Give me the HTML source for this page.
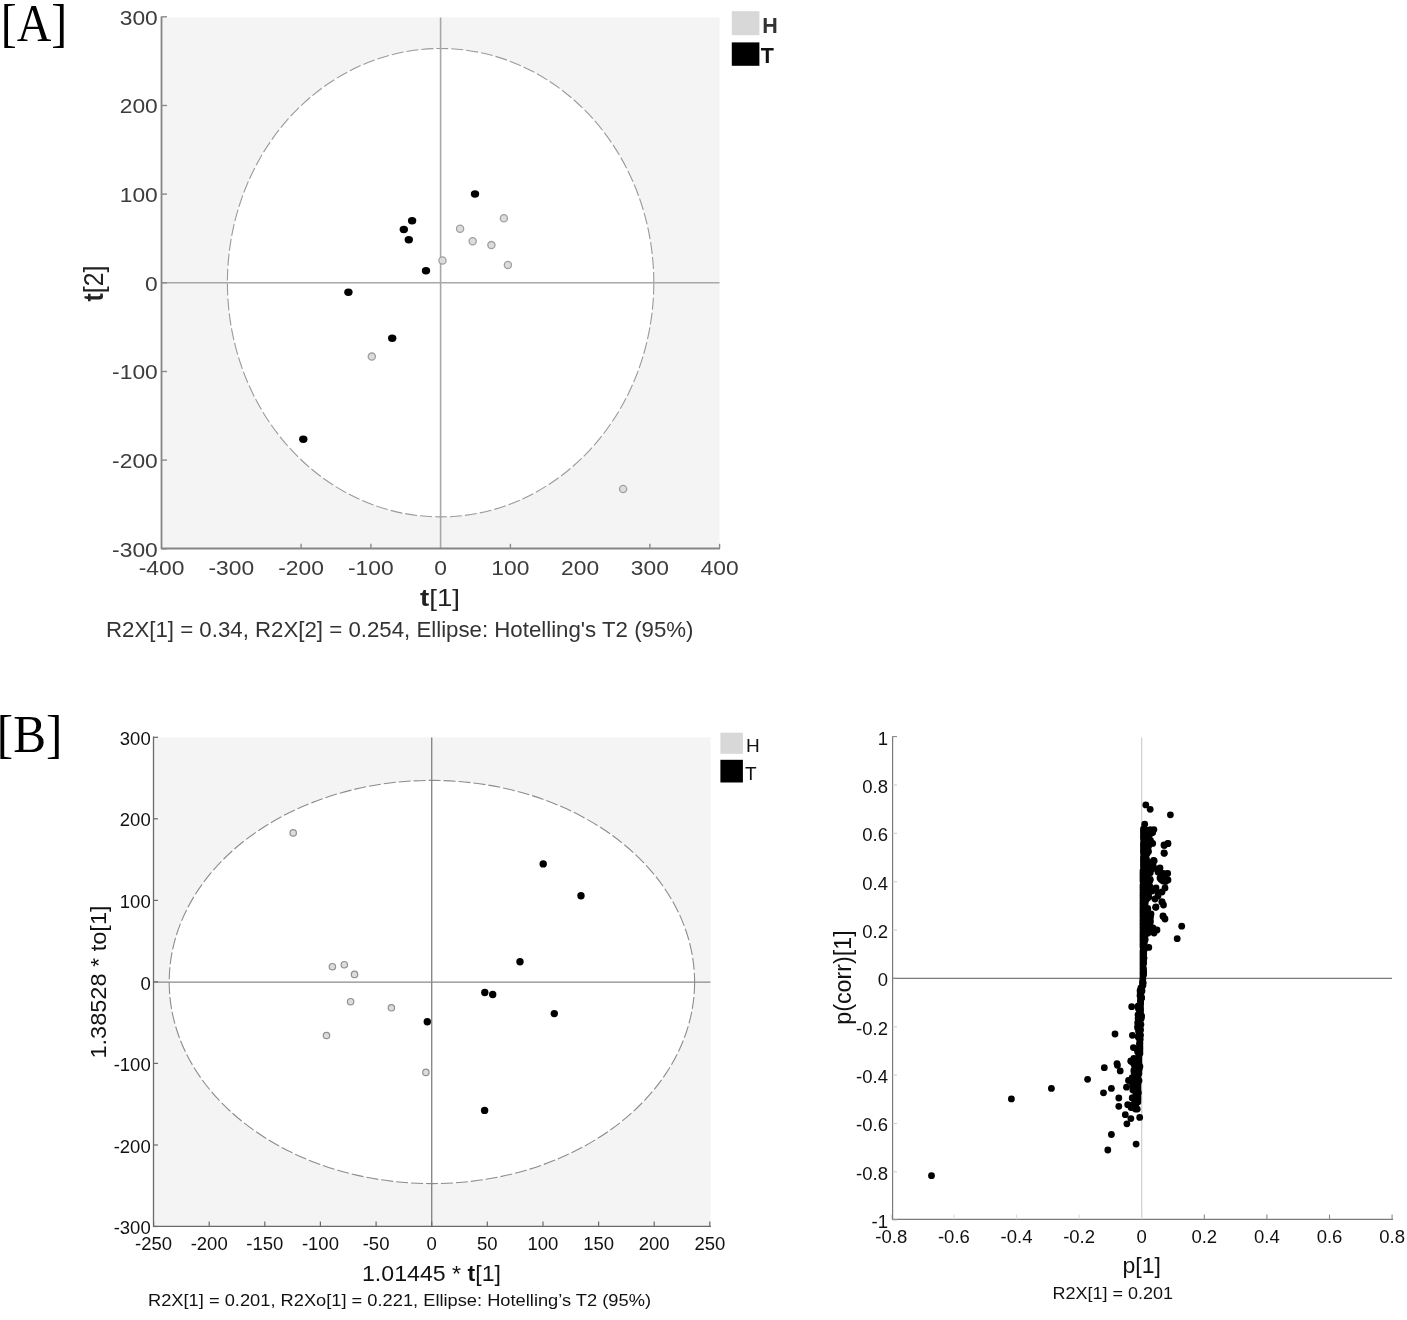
<!DOCTYPE html>
<html><head><meta charset="utf-8"><style>
html,body{margin:0;padding:0;background:#fff;width:1407px;height:1320px;overflow:hidden}
svg{display:block;filter:grayscale(1)}

</style></head><body>
<svg width="1407" height="1320" viewBox="0 0 1407 1320">
<rect width="1407" height="1320" fill="#fff"/>
<rect x="162" y="17.5" width="557.5" height="531" fill="#f4f4f4"/>
<ellipse cx="440.6" cy="282.7" rx="213.2" ry="234.2" fill="#fff" stroke="#9a9a9a" stroke-width="1.1" stroke-dasharray="12 3"/>
<line x1="162" y1="282.8" x2="719.5" y2="282.8" stroke="#a8a8a8" stroke-width="1.6"/>
<line x1="440.6" y1="17.5" x2="440.6" y2="548" stroke="#a8a8a8" stroke-width="1.6"/>
<line x1="161.5" y1="16.5" x2="161.5" y2="549" stroke="#858585" stroke-width="1.8"/>
<line x1="161" y1="548.5" x2="720" y2="548.5" stroke="#858585" stroke-width="1.8"/>
<line x1="161.5" y1="548.8" x2="167" y2="548.8" stroke="#8a8a8a" stroke-width="1.4"/>
<text x="157.8" y="556.81" font-size="19.5" text-anchor="end" fill="#3c3c3c" font-weight="normal" font-family='"Liberation Sans", sans-serif' textLength="45.67" lengthAdjust="spacingAndGlyphs" >-300</text>
<line x1="161.5" y1="460.1" x2="167" y2="460.1" stroke="#8a8a8a" stroke-width="1.4"/>
<text x="157.8" y="468.14" font-size="19.5" text-anchor="end" fill="#3c3c3c" font-weight="normal" font-family='"Liberation Sans", sans-serif' textLength="45.67" lengthAdjust="spacingAndGlyphs" >-200</text>
<line x1="161.5" y1="371.5" x2="167" y2="371.5" stroke="#8a8a8a" stroke-width="1.4"/>
<text x="157.8" y="379.47" font-size="19.5" text-anchor="end" fill="#3c3c3c" font-weight="normal" font-family='"Liberation Sans", sans-serif' textLength="45.67" lengthAdjust="spacingAndGlyphs" >-100</text>
<line x1="161.5" y1="282.8" x2="167" y2="282.8" stroke="#8a8a8a" stroke-width="1.4"/>
<text x="157.8" y="290.8" font-size="19.5" text-anchor="end" fill="#3c3c3c" font-weight="normal" font-family='"Liberation Sans", sans-serif' textLength="12.69" lengthAdjust="spacingAndGlyphs" >0</text>
<line x1="161.5" y1="194.1" x2="167" y2="194.1" stroke="#8a8a8a" stroke-width="1.4"/>
<text x="157.8" y="202.13" font-size="19.5" text-anchor="end" fill="#3c3c3c" font-weight="normal" font-family='"Liberation Sans", sans-serif' textLength="38.07" lengthAdjust="spacingAndGlyphs" >100</text>
<line x1="161.5" y1="105.5" x2="167" y2="105.5" stroke="#8a8a8a" stroke-width="1.4"/>
<text x="157.8" y="113.46000000000001" font-size="19.5" text-anchor="end" fill="#3c3c3c" font-weight="normal" font-family='"Liberation Sans", sans-serif' textLength="38.07" lengthAdjust="spacingAndGlyphs" >200</text>
<line x1="161.5" y1="16.8" x2="167" y2="16.8" stroke="#8a8a8a" stroke-width="1.4"/>
<text x="157.8" y="24.79000000000002" font-size="19.5" text-anchor="end" fill="#3c3c3c" font-weight="normal" font-family='"Liberation Sans", sans-serif' textLength="38.07" lengthAdjust="spacingAndGlyphs" >300</text>
<text x="161.60000000000002" y="575.3" font-size="19.5" text-anchor="middle" fill="#3c3c3c" font-weight="normal" font-family='"Liberation Sans", sans-serif' textLength="45.67" lengthAdjust="spacingAndGlyphs" >-400</text>
<text x="231.35000000000002" y="575.3" font-size="19.5" text-anchor="middle" fill="#3c3c3c" font-weight="normal" font-family='"Liberation Sans", sans-serif' textLength="45.67" lengthAdjust="spacingAndGlyphs" >-300</text>
<line x1="301.1" y1="548.5" x2="301.1" y2="543.8" stroke="#8a8a8a" stroke-width="1.4"/>
<text x="301.1" y="575.3" font-size="19.5" text-anchor="middle" fill="#3c3c3c" font-weight="normal" font-family='"Liberation Sans", sans-serif' textLength="45.67" lengthAdjust="spacingAndGlyphs" >-200</text>
<line x1="370.9" y1="548.5" x2="370.9" y2="543.8" stroke="#8a8a8a" stroke-width="1.4"/>
<text x="370.85" y="575.3" font-size="19.5" text-anchor="middle" fill="#3c3c3c" font-weight="normal" font-family='"Liberation Sans", sans-serif' textLength="45.67" lengthAdjust="spacingAndGlyphs" >-100</text>
<text x="440.6" y="575.3" font-size="19.5" text-anchor="middle" fill="#3c3c3c" font-weight="normal" font-family='"Liberation Sans", sans-serif' textLength="12.69" lengthAdjust="spacingAndGlyphs" >0</text>
<line x1="510.4" y1="548.5" x2="510.4" y2="543.8" stroke="#8a8a8a" stroke-width="1.4"/>
<text x="510.35" y="575.3" font-size="19.5" text-anchor="middle" fill="#3c3c3c" font-weight="normal" font-family='"Liberation Sans", sans-serif' textLength="38.07" lengthAdjust="spacingAndGlyphs" >100</text>
<text x="580.1" y="575.3" font-size="19.5" text-anchor="middle" fill="#3c3c3c" font-weight="normal" font-family='"Liberation Sans", sans-serif' textLength="38.07" lengthAdjust="spacingAndGlyphs" >200</text>
<line x1="649.9" y1="548.5" x2="649.9" y2="543.8" stroke="#8a8a8a" stroke-width="1.4"/>
<text x="649.85" y="575.3" font-size="19.5" text-anchor="middle" fill="#3c3c3c" font-weight="normal" font-family='"Liberation Sans", sans-serif' textLength="38.07" lengthAdjust="spacingAndGlyphs" >300</text>
<line x1="719.6" y1="548.5" x2="719.6" y2="543.8" stroke="#8a8a8a" stroke-width="1.4"/>
<text x="719.6" y="575.3" font-size="19.5" text-anchor="middle" fill="#3c3c3c" font-weight="normal" font-family='"Liberation Sans", sans-serif' textLength="38.07" lengthAdjust="spacingAndGlyphs" >400</text>
<text x="420" y="606" font-size="24" fill="#222" font-family='"Liberation Sans", sans-serif' textLength="40" lengthAdjust="spacingAndGlyphs"><tspan font-weight="bold">t</tspan>[1]</text>
<text transform="translate(102.5,301.5) rotate(-90)" x="0" y="0" font-size="28" fill="#222" font-family='"Liberation Sans", sans-serif' textLength="36" lengthAdjust="spacingAndGlyphs"><tspan font-weight="bold">t</tspan>[2]</text>
<text x="106" y="636.8" font-size="21.3" text-anchor="start" fill="#333" font-weight="normal" font-family='"Liberation Sans", sans-serif' textLength="587.5" lengthAdjust="spacingAndGlyphs" >R2X[1] = 0.34, R2X[2] = 0.254, Ellipse: Hotelling's T2 (95%)</text>
<rect x="731.8" y="11.2" width="27.6" height="24" fill="#d8d8d8"/>
<rect x="731.8" y="42.4" width="27.6" height="23.4" fill="#000"/>
<text x="762.3" y="33" font-size="21.5" text-anchor="start" fill="#333" font-weight="bold" font-family='"Liberation Sans", sans-serif' >H</text>
<text x="760.8" y="63" font-size="21.5" text-anchor="start" fill="#111" font-weight="bold" font-family='"Liberation Sans", sans-serif' >T</text>
<text x="0.8" y="40.5" font-size="53" text-anchor="start" fill="#000" font-weight="normal" font-family='"Liberation Serif", serif' textLength="66.5" lengthAdjust="spacingAndGlyphs" >[A]</text>
<circle cx="503.9" cy="218.2" r="3.6" fill="#dcdcdc" stroke="#a0a0a0" stroke-width="1.3"/>
<circle cx="460.1" cy="228.8" r="3.6" fill="#dcdcdc" stroke="#a0a0a0" stroke-width="1.3"/>
<circle cx="472.7" cy="241.3" r="3.6" fill="#dcdcdc" stroke="#a0a0a0" stroke-width="1.3"/>
<circle cx="491.4" cy="245.1" r="3.6" fill="#dcdcdc" stroke="#a0a0a0" stroke-width="1.3"/>
<circle cx="442.5" cy="260.5" r="3.6" fill="#dcdcdc" stroke="#a0a0a0" stroke-width="1.3"/>
<circle cx="507.9" cy="264.9" r="3.6" fill="#dcdcdc" stroke="#a0a0a0" stroke-width="1.3"/>
<circle cx="371.8" cy="356.6" r="3.6" fill="#dcdcdc" stroke="#a0a0a0" stroke-width="1.3"/>
<circle cx="623.1" cy="489" r="3.6" fill="#dcdcdc" stroke="#a0a0a0" stroke-width="1.3"/>
<ellipse cx="475" cy="194" rx="4.2" ry="3.7" fill="#000"/>
<ellipse cx="412.1" cy="220.8" rx="4.2" ry="3.7" fill="#000"/>
<ellipse cx="403.8" cy="229.5" rx="4.2" ry="3.7" fill="#000"/>
<ellipse cx="408.8" cy="239.7" rx="4.2" ry="3.7" fill="#000"/>
<ellipse cx="426" cy="270.7" rx="4.2" ry="3.7" fill="#000"/>
<ellipse cx="348.4" cy="292.3" rx="4.2" ry="3.7" fill="#000"/>
<ellipse cx="392.2" cy="338.2" rx="4.2" ry="3.7" fill="#000"/>
<ellipse cx="303.3" cy="439.2" rx="4.2" ry="3.7" fill="#000"/>
<rect x="154" y="737.5" width="556.5" height="488.5" fill="#f4f4f4"/>
<ellipse cx="431.9" cy="982" rx="262.7" ry="201.6" fill="#fff" stroke="#8c8c8c" stroke-width="1.1" stroke-dasharray="12 3"/>
<line x1="154" y1="982.2" x2="710.5" y2="982.2" stroke="#8a8a8a" stroke-width="1.2"/>
<line x1="431.7" y1="737.5" x2="431.7" y2="1226" stroke="#888" stroke-width="1.4"/>
<line x1="153.5" y1="736.5" x2="153.5" y2="1226.8" stroke="#6a6a6a" stroke-width="1.3"/>
<line x1="153" y1="1226.3" x2="711" y2="1226.3" stroke="#6a6a6a" stroke-width="1.3"/>
<line x1="153.5" y1="1226.5" x2="158" y2="1226.5" stroke="#6a6a6a" stroke-width="1.2"/>
<text x="150.7" y="1234.09" font-size="18.5" text-anchor="end" fill="#111" font-weight="normal" font-family='"Liberation Sans", sans-serif' >-300</text>
<line x1="153.5" y1="1145.0" x2="158" y2="1145.0" stroke="#6a6a6a" stroke-width="1.2"/>
<text x="150.7" y="1152.56" font-size="18.5" text-anchor="end" fill="#111" font-weight="normal" font-family='"Liberation Sans", sans-serif' >-200</text>
<line x1="153.5" y1="1063.4" x2="158" y2="1063.4" stroke="#6a6a6a" stroke-width="1.2"/>
<text x="150.7" y="1071.03" font-size="18.5" text-anchor="end" fill="#111" font-weight="normal" font-family='"Liberation Sans", sans-serif' >-100</text>
<line x1="153.5" y1="981.9" x2="158" y2="981.9" stroke="#6a6a6a" stroke-width="1.2"/>
<text x="150.7" y="989.5" font-size="18.5" text-anchor="end" fill="#111" font-weight="normal" font-family='"Liberation Sans", sans-serif' >0</text>
<line x1="153.5" y1="900.4" x2="158" y2="900.4" stroke="#6a6a6a" stroke-width="1.2"/>
<text x="150.7" y="907.97" font-size="18.5" text-anchor="end" fill="#111" font-weight="normal" font-family='"Liberation Sans", sans-serif' >100</text>
<line x1="153.5" y1="818.8" x2="158" y2="818.8" stroke="#6a6a6a" stroke-width="1.2"/>
<text x="150.7" y="826.4399999999999" font-size="18.5" text-anchor="end" fill="#111" font-weight="normal" font-family='"Liberation Sans", sans-serif' >200</text>
<line x1="153.5" y1="737.3" x2="158" y2="737.3" stroke="#6a6a6a" stroke-width="1.2"/>
<text x="150.7" y="744.91" font-size="18.5" text-anchor="end" fill="#111" font-weight="normal" font-family='"Liberation Sans", sans-serif' >300</text>
<line x1="153.6" y1="1226.3" x2="153.6" y2="1221.5" stroke="#6a6a6a" stroke-width="1.2"/>
<text x="153.575" y="1250" font-size="18.5" text-anchor="middle" fill="#111" font-weight="normal" font-family='"Liberation Sans", sans-serif' >-250</text>
<line x1="209.2" y1="1226.3" x2="209.2" y2="1221.5" stroke="#6a6a6a" stroke-width="1.2"/>
<text x="209.2" y="1250" font-size="18.5" text-anchor="middle" fill="#111" font-weight="normal" font-family='"Liberation Sans", sans-serif' >-200</text>
<line x1="264.8" y1="1226.3" x2="264.8" y2="1221.5" stroke="#6a6a6a" stroke-width="1.2"/>
<text x="264.825" y="1250" font-size="18.5" text-anchor="middle" fill="#111" font-weight="normal" font-family='"Liberation Sans", sans-serif' >-150</text>
<line x1="320.4" y1="1226.3" x2="320.4" y2="1221.5" stroke="#6a6a6a" stroke-width="1.2"/>
<text x="320.45" y="1250" font-size="18.5" text-anchor="middle" fill="#111" font-weight="normal" font-family='"Liberation Sans", sans-serif' >-100</text>
<line x1="376.1" y1="1226.3" x2="376.1" y2="1221.5" stroke="#6a6a6a" stroke-width="1.2"/>
<text x="376.075" y="1250" font-size="18.5" text-anchor="middle" fill="#111" font-weight="normal" font-family='"Liberation Sans", sans-serif' >-50</text>
<line x1="431.7" y1="1226.3" x2="431.7" y2="1221.5" stroke="#6a6a6a" stroke-width="1.2"/>
<text x="431.7" y="1250" font-size="18.5" text-anchor="middle" fill="#111" font-weight="normal" font-family='"Liberation Sans", sans-serif' >0</text>
<line x1="487.3" y1="1226.3" x2="487.3" y2="1221.5" stroke="#6a6a6a" stroke-width="1.2"/>
<text x="487.325" y="1250" font-size="18.5" text-anchor="middle" fill="#111" font-weight="normal" font-family='"Liberation Sans", sans-serif' >50</text>
<line x1="543.0" y1="1226.3" x2="543.0" y2="1221.5" stroke="#6a6a6a" stroke-width="1.2"/>
<text x="542.95" y="1250" font-size="18.5" text-anchor="middle" fill="#111" font-weight="normal" font-family='"Liberation Sans", sans-serif' >100</text>
<line x1="598.6" y1="1226.3" x2="598.6" y2="1221.5" stroke="#6a6a6a" stroke-width="1.2"/>
<text x="598.575" y="1250" font-size="18.5" text-anchor="middle" fill="#111" font-weight="normal" font-family='"Liberation Sans", sans-serif' >150</text>
<line x1="654.2" y1="1226.3" x2="654.2" y2="1221.5" stroke="#6a6a6a" stroke-width="1.2"/>
<text x="654.2" y="1250" font-size="18.5" text-anchor="middle" fill="#111" font-weight="normal" font-family='"Liberation Sans", sans-serif' >200</text>
<line x1="709.8" y1="1226.3" x2="709.8" y2="1221.5" stroke="#6a6a6a" stroke-width="1.2"/>
<text x="709.825" y="1250" font-size="18.5" text-anchor="middle" fill="#111" font-weight="normal" font-family='"Liberation Sans", sans-serif' >250</text>
<text x="362" y="1280.6" font-size="22.5" fill="#111" font-family='"Liberation Sans", sans-serif' textLength="139" lengthAdjust="spacingAndGlyphs">1.01445 * <tspan font-weight="bold">t</tspan>[1]</text>
<text transform="translate(105.5,1058.5) rotate(-90)" x="0" y="0" font-size="21.5" fill="#111" font-family='"Liberation Sans", sans-serif' textLength="153" lengthAdjust="spacingAndGlyphs">1.38528 * to[1]</text>
<text x="148" y="1306.4" font-size="17.2" text-anchor="start" fill="#111" font-weight="normal" font-family='"Liberation Sans", sans-serif' textLength="503" lengthAdjust="spacingAndGlyphs" >R2X[1] = 0.201, R2Xo[1] = 0.221, Ellipse: Hotelling’s T2 (95%)</text>
<rect x="720.4" y="732.7" width="22.5" height="21.1" fill="#d8d8d8"/>
<rect x="720.4" y="759.8" width="22.5" height="22.7" fill="#000"/>
<text x="746" y="751.6" font-size="19" text-anchor="start" fill="#111" font-weight="normal" font-family='"Liberation Sans", sans-serif' >H</text>
<text x="745" y="779.7" font-size="19" text-anchor="start" fill="#111" font-weight="normal" font-family='"Liberation Sans", sans-serif' >T</text>
<text x="-3.2" y="752.3" font-size="53" text-anchor="start" fill="#000" font-weight="normal" font-family='"Liberation Serif", serif' textLength="65.5" lengthAdjust="spacingAndGlyphs" >[B]</text>
<circle cx="293.2" cy="832.9" r="3.2" fill="#dcdcdc" stroke="#909090" stroke-width="1.2"/>
<circle cx="332.4" cy="966.7" r="3.2" fill="#dcdcdc" stroke="#909090" stroke-width="1.2"/>
<circle cx="344.3" cy="964.7" r="3.2" fill="#dcdcdc" stroke="#909090" stroke-width="1.2"/>
<circle cx="354.5" cy="974.4" r="3.2" fill="#dcdcdc" stroke="#909090" stroke-width="1.2"/>
<circle cx="350.6" cy="1001.7" r="3.2" fill="#dcdcdc" stroke="#909090" stroke-width="1.2"/>
<circle cx="391.4" cy="1007.8" r="3.2" fill="#dcdcdc" stroke="#909090" stroke-width="1.2"/>
<circle cx="326.5" cy="1035.5" r="3.2" fill="#dcdcdc" stroke="#909090" stroke-width="1.2"/>
<circle cx="425.9" cy="1072.4" r="3.2" fill="#dcdcdc" stroke="#909090" stroke-width="1.2"/>
<circle cx="543.2" cy="863.9" r="3.7" fill="#000"/>
<circle cx="581" cy="895.8" r="3.7" fill="#000"/>
<circle cx="520" cy="961.8" r="3.7" fill="#000"/>
<circle cx="484.8" cy="992.5" r="3.7" fill="#000"/>
<circle cx="492.7" cy="994.5" r="3.7" fill="#000"/>
<circle cx="554.3" cy="1013.6" r="3.7" fill="#000"/>
<circle cx="427.3" cy="1021.8" r="3.7" fill="#000"/>
<circle cx="484.6" cy="1110.4" r="3.7" fill="#000"/>
<line x1="1141.7" y1="737.5" x2="1141.7" y2="1219" stroke="#cfcfcf" stroke-width="1.2"/>
<line x1="892.5" y1="978.4" x2="1392" y2="978.4" stroke="#7a7a7a" stroke-width="1.2"/>
<line x1="892.6" y1="736.2" x2="892.6" y2="1219.8" stroke="#7a7a7a" stroke-width="1.2"/>
<line x1="892" y1="1219.3" x2="1393" y2="1219.3" stroke="#7a7a7a" stroke-width="1.2"/>
<line x1="892.6" y1="736.6" x2="897" y2="736.6" stroke="#8a8a8a" stroke-width="1.1"/>
<text x="888" y="744.5999999999999" font-size="18.5" text-anchor="end" fill="#111" font-weight="normal" font-family='"Liberation Sans", sans-serif' >1</text>
<line x1="892.6" y1="785.0" x2="897" y2="785.0" stroke="#cfcfcf" stroke-width="1.1"/>
<text x="888" y="792.9599999999999" font-size="18.5" text-anchor="end" fill="#111" font-weight="normal" font-family='"Liberation Sans", sans-serif' >0.8</text>
<line x1="892.6" y1="833.3" x2="897" y2="833.3" stroke="#cfcfcf" stroke-width="1.1"/>
<text x="888" y="841.3199999999999" font-size="18.5" text-anchor="end" fill="#111" font-weight="normal" font-family='"Liberation Sans", sans-serif' >0.6</text>
<line x1="892.6" y1="881.7" x2="897" y2="881.7" stroke="#cfcfcf" stroke-width="1.1"/>
<text x="888" y="889.68" font-size="18.5" text-anchor="end" fill="#111" font-weight="normal" font-family='"Liberation Sans", sans-serif' >0.4</text>
<line x1="892.6" y1="930.0" x2="897" y2="930.0" stroke="#cfcfcf" stroke-width="1.1"/>
<text x="888" y="938.04" font-size="18.5" text-anchor="end" fill="#111" font-weight="normal" font-family='"Liberation Sans", sans-serif' >0.2</text>
<line x1="892.6" y1="978.4" x2="897" y2="978.4" stroke="#8a8a8a" stroke-width="1.1"/>
<text x="888" y="986.4" font-size="18.5" text-anchor="end" fill="#111" font-weight="normal" font-family='"Liberation Sans", sans-serif' >0</text>
<line x1="892.6" y1="1026.8" x2="897" y2="1026.8" stroke="#cfcfcf" stroke-width="1.1"/>
<text x="888" y="1034.76" font-size="18.5" text-anchor="end" fill="#111" font-weight="normal" font-family='"Liberation Sans", sans-serif' >-0.2</text>
<line x1="892.6" y1="1075.1" x2="897" y2="1075.1" stroke="#cfcfcf" stroke-width="1.1"/>
<text x="888" y="1083.12" font-size="18.5" text-anchor="end" fill="#111" font-weight="normal" font-family='"Liberation Sans", sans-serif' >-0.4</text>
<line x1="892.6" y1="1123.5" x2="897" y2="1123.5" stroke="#cfcfcf" stroke-width="1.1"/>
<text x="888" y="1131.48" font-size="18.5" text-anchor="end" fill="#111" font-weight="normal" font-family='"Liberation Sans", sans-serif' >-0.6</text>
<line x1="892.6" y1="1171.8" x2="897" y2="1171.8" stroke="#cfcfcf" stroke-width="1.1"/>
<text x="888" y="1179.84" font-size="18.5" text-anchor="end" fill="#111" font-weight="normal" font-family='"Liberation Sans", sans-serif' >-0.8</text>
<line x1="892.6" y1="1220.2" x2="897" y2="1220.2" stroke="#cfcfcf" stroke-width="1.1"/>
<text x="888" y="1228.2" font-size="18.5" text-anchor="end" fill="#111" font-weight="normal" font-family='"Liberation Sans", sans-serif' >-1</text>
<line x1="891.3" y1="1219.3" x2="891.3" y2="1214.5" stroke="#dddddd" stroke-width="1.1"/>
<text x="891.3000000000001" y="1243" font-size="18.5" text-anchor="middle" fill="#111" font-weight="normal" font-family='"Liberation Sans", sans-serif' >-0.8</text>
<line x1="953.9" y1="1219.3" x2="953.9" y2="1214.5" stroke="#dddddd" stroke-width="1.1"/>
<text x="953.9" y="1243" font-size="18.5" text-anchor="middle" fill="#111" font-weight="normal" font-family='"Liberation Sans", sans-serif' >-0.6</text>
<line x1="1016.5" y1="1219.3" x2="1016.5" y2="1214.5" stroke="#dddddd" stroke-width="1.1"/>
<text x="1016.5" y="1243" font-size="18.5" text-anchor="middle" fill="#111" font-weight="normal" font-family='"Liberation Sans", sans-serif' >-0.4</text>
<line x1="1079.1" y1="1219.3" x2="1079.1" y2="1214.5" stroke="#dddddd" stroke-width="1.1"/>
<text x="1079.1000000000001" y="1243" font-size="18.5" text-anchor="middle" fill="#111" font-weight="normal" font-family='"Liberation Sans", sans-serif' >-0.2</text>
<line x1="1141.7" y1="1219.3" x2="1141.7" y2="1214.5" stroke="#dddddd" stroke-width="1.1"/>
<text x="1141.7" y="1243" font-size="18.5" text-anchor="middle" fill="#111" font-weight="normal" font-family='"Liberation Sans", sans-serif' >0</text>
<line x1="1204.3" y1="1219.3" x2="1204.3" y2="1214.5" stroke="#8a8a8a" stroke-width="1.1"/>
<text x="1204.3" y="1243" font-size="18.5" text-anchor="middle" fill="#111" font-weight="normal" font-family='"Liberation Sans", sans-serif' >0.2</text>
<line x1="1266.9" y1="1219.3" x2="1266.9" y2="1214.5" stroke="#8a8a8a" stroke-width="1.1"/>
<text x="1266.9" y="1243" font-size="18.5" text-anchor="middle" fill="#111" font-weight="normal" font-family='"Liberation Sans", sans-serif' >0.4</text>
<line x1="1329.5" y1="1219.3" x2="1329.5" y2="1214.5" stroke="#8a8a8a" stroke-width="1.1"/>
<text x="1329.5" y="1243" font-size="18.5" text-anchor="middle" fill="#111" font-weight="normal" font-family='"Liberation Sans", sans-serif' >0.6</text>
<line x1="1392.1" y1="1219.3" x2="1392.1" y2="1214.5" stroke="#8a8a8a" stroke-width="1.1"/>
<text x="1392.1000000000001" y="1243" font-size="18.5" text-anchor="middle" fill="#111" font-weight="normal" font-family='"Liberation Sans", sans-serif' >0.8</text>
<text x="1122.5" y="1273" font-size="22" fill="#111" font-family='"Liberation Sans", sans-serif' textLength="38.5" lengthAdjust="spacingAndGlyphs">p[1]</text>
<text transform="translate(850.5,1024.8) rotate(-90)" x="0" y="0" font-size="23" fill="#111" font-family='"Liberation Sans", sans-serif' textLength="94.5" lengthAdjust="spacingAndGlyphs">p(corr)[1]</text>
<text x="1052.5" y="1299.4" font-size="17.3" text-anchor="start" fill="#111" font-weight="normal" font-family='"Liberation Sans", sans-serif' textLength="120.5" lengthAdjust="spacingAndGlyphs" >R2X[1] = 0.201</text>
<circle cx="931.5" cy="1175.7" r="3.4"/>
<circle cx="1011.4" cy="1098.9" r="3.4"/>
<circle cx="1051.4" cy="1088.4" r="3.4"/>
<circle cx="1087.6" cy="1079.3" r="3.4"/>
<circle cx="1104.3" cy="1067.7" r="3.4"/>
<circle cx="1103.5" cy="1092.8" r="3.4"/>
<circle cx="1111.4" cy="1088.4" r="3.4"/>
<circle cx="1115" cy="1034" r="3.4"/>
<circle cx="1111.4" cy="1134.5" r="3.4"/>
<circle cx="1107.8" cy="1150" r="3.4"/>
<circle cx="1117.4" cy="1065.3" r="3.4"/>
<circle cx="1120.2" cy="1070.9" r="3.4"/>
<circle cx="1118.8" cy="1098" r="3.4"/>
<circle cx="1118.8" cy="1106.3" r="3.4"/>
<circle cx="1126.5" cy="1087.2" r="3.4"/>
<circle cx="1128.5" cy="1080.5" r="3.4"/>
<circle cx="1130.9" cy="1061" r="3.4"/>
<circle cx="1131" cy="1061.2" r="3.4"/>
<circle cx="1117" cy="1063.6" r="3.4"/>
<circle cx="1131.7" cy="1006.7" r="3.4"/>
<circle cx="1132.4" cy="1035.3" r="3.4"/>
<circle cx="1133.4" cy="1047.6" r="3.4"/>
<circle cx="1127.7" cy="1104.7" r="3.4"/>
<circle cx="1131" cy="1107.5" r="3.4"/>
<circle cx="1137.3" cy="1109.1" r="3.4"/>
<circle cx="1139.7" cy="1117.4" r="3.4"/>
<circle cx="1125.3" cy="1114.7" r="3.4"/>
<circle cx="1130.9" cy="1118.6" r="3.4"/>
<circle cx="1126.9" cy="1123.8" r="3.4"/>
<circle cx="1136.1" cy="1144.1" r="3.4"/>
<circle cx="1145.8" cy="804.9" r="3.4"/>
<circle cx="1150.2" cy="809.3" r="3.4"/>
<circle cx="1170.4" cy="814.8" r="3.4"/>
<circle cx="1144.7" cy="824.2" r="3.4"/>
<circle cx="1164.3" cy="845.4" r="3.4"/>
<circle cx="1167.7" cy="843.7" r="3.4"/>
<circle cx="1164.3" cy="853.3" r="3.4"/>
<circle cx="1163" cy="873.4" r="3.4"/>
<circle cx="1167.7" cy="873.4" r="3.4"/>
<circle cx="1164.3" cy="880.2" r="3.4"/>
<circle cx="1161" cy="879.5" r="3.4"/>
<circle cx="1165.5" cy="881.5" r="3.4"/>
<circle cx="1162" cy="902" r="3.4"/>
<circle cx="1155.6" cy="907.3" r="3.4"/>
<circle cx="1163.2" cy="916.4" r="3.4"/>
<circle cx="1181.7" cy="926.2" r="3.4"/>
<circle cx="1177.2" cy="938.7" r="3.4"/>
<circle cx="1154" cy="931.5" r="3.4"/>
<circle cx="1151" cy="914" r="3.4"/>
<circle cx="1150.3" cy="921" r="3.4"/>
<circle cx="1148.8" cy="947.4" r="3.4"/>
<circle cx="1152.7" cy="843.4" r="3.4"/>
<circle cx="1158" cy="872" r="3.4"/>
<circle cx="1160" cy="868" r="3.4"/>
<circle cx="1156" cy="888" r="3.4"/>
<circle cx="1158" cy="893" r="3.4"/>
<circle cx="1164" cy="845" r="3.4"/>
<circle cx="1168" cy="843.5" r="3.4"/>
<circle cx="1164" cy="853" r="3.4"/>
<circle cx="1162" cy="874" r="3.4"/>
<circle cx="1166" cy="874" r="3.4"/>
<circle cx="1168" cy="880" r="3.4"/>
<circle cx="1163" cy="881" r="3.4"/>
<circle cx="1160" cy="878" r="3.4"/>
<circle cx="1165" cy="888" r="3.4"/>
<circle cx="1162" cy="892" r="3.4"/>
<circle cx="1158" cy="896" r="3.4"/>
<circle cx="1155" cy="899" r="3.4"/>
<circle cx="1162" cy="902" r="3.4"/>
<circle cx="1163.5" cy="905" r="3.4"/>
<circle cx="1156" cy="907" r="3.4"/>
<circle cx="1163" cy="916" r="3.4"/>
<circle cx="1165" cy="919" r="3.4"/>
<circle cx="1157" cy="930" r="3.4"/>
<circle cx="1154" cy="933" r="3.4"/>
<circle cx="1153" cy="928" r="3.4"/>
<circle cx="1143.5" cy="829.0" r="3.4"/>
<circle cx="1143.5" cy="831.5" r="3.4"/>
<circle cx="1143.5" cy="834.0" r="3.4"/>
<circle cx="1143.5" cy="836.5" r="3.4"/>
<circle cx="1143.5" cy="839.0" r="3.4"/>
<circle cx="1147.5" cy="830.8" r="3.4"/>
<circle cx="1150.7" cy="829.9" r="3.4"/>
<circle cx="1149.6" cy="833.4" r="3.4"/>
<circle cx="1145.0" cy="835.1" r="3.4"/>
<circle cx="1144.8" cy="834.2" r="3.4"/>
<circle cx="1145.1" cy="830.1" r="3.4"/>
<circle cx="1148.5" cy="838.9" r="3.4"/>
<circle cx="1145.6" cy="831.7" r="3.4"/>
<circle cx="1150.5" cy="840.4" r="3.4"/>
<circle cx="1150.0" cy="833.8" r="3.4"/>
<circle cx="1153.9" cy="829.6" r="3.4"/>
<circle cx="1152.7" cy="832.5" r="3.4"/>
<circle cx="1145.8" cy="830.4" r="3.4"/>
<circle cx="1147.4" cy="838.8" r="3.4"/>
<circle cx="1146.2" cy="836.0" r="3.4"/>
<circle cx="1150.6" cy="833.5" r="3.4"/>
<circle cx="1149.7" cy="829.8" r="3.4"/>
<circle cx="1143.5" cy="843.0" r="3.4"/>
<circle cx="1143.5" cy="845.5" r="3.4"/>
<circle cx="1143.5" cy="848.0" r="3.4"/>
<circle cx="1143.5" cy="850.5" r="3.4"/>
<circle cx="1143.5" cy="853.0" r="3.4"/>
<circle cx="1144.7" cy="845.5" r="3.4"/>
<circle cx="1147.9" cy="848.1" r="3.4"/>
<circle cx="1146.0" cy="850.0" r="3.4"/>
<circle cx="1146.8" cy="846.6" r="3.4"/>
<circle cx="1148.5" cy="851.4" r="3.4"/>
<circle cx="1145.7" cy="849.9" r="3.4"/>
<circle cx="1147.1" cy="853.5" r="3.4"/>
<circle cx="1148.2" cy="846.5" r="3.4"/>
<circle cx="1149.5" cy="844.4" r="3.4"/>
<circle cx="1146.6" cy="852.1" r="3.4"/>
<circle cx="1145.2" cy="848.9" r="3.4"/>
<circle cx="1144.6" cy="851.0" r="3.4"/>
<circle cx="1143.5" cy="857.0" r="3.4"/>
<circle cx="1143.5" cy="859.5" r="3.4"/>
<circle cx="1143.5" cy="862.0" r="3.4"/>
<circle cx="1143.5" cy="864.5" r="3.4"/>
<circle cx="1143.5" cy="867.0" r="3.4"/>
<circle cx="1153.0" cy="863.9" r="3.4"/>
<circle cx="1154.2" cy="860.8" r="3.4"/>
<circle cx="1152.2" cy="864.1" r="3.4"/>
<circle cx="1150.9" cy="862.5" r="3.4"/>
<circle cx="1153.8" cy="868.3" r="3.4"/>
<circle cx="1149.7" cy="865.0" r="3.4"/>
<circle cx="1145.1" cy="865.4" r="3.4"/>
<circle cx="1151.6" cy="868.9" r="3.4"/>
<circle cx="1153.6" cy="860.4" r="3.4"/>
<circle cx="1148.7" cy="865.0" r="3.4"/>
<circle cx="1144.7" cy="862.5" r="3.4"/>
<circle cx="1146.3" cy="858.4" r="3.4"/>
<circle cx="1145.1" cy="866.2" r="3.4"/>
<circle cx="1145.8" cy="860.0" r="3.4"/>
<circle cx="1148.8" cy="867.5" r="3.4"/>
<circle cx="1145.3" cy="862.4" r="3.4"/>
<circle cx="1150.6" cy="867.6" r="3.4"/>
<circle cx="1153.6" cy="867.4" r="3.4"/>
<circle cx="1147.5" cy="862.0" r="3.4"/>
<circle cx="1143.0" cy="871.0" r="3.4"/>
<circle cx="1143.0" cy="873.5" r="3.4"/>
<circle cx="1143.0" cy="876.0" r="3.4"/>
<circle cx="1143.0" cy="878.5" r="3.4"/>
<circle cx="1143.0" cy="881.0" r="3.4"/>
<circle cx="1146.0" cy="881.6" r="3.4"/>
<circle cx="1150.3" cy="872.8" r="3.4"/>
<circle cx="1144.7" cy="873.8" r="3.4"/>
<circle cx="1145.1" cy="876.8" r="3.4"/>
<circle cx="1147.6" cy="874.2" r="3.4"/>
<circle cx="1143.4" cy="876.0" r="3.4"/>
<circle cx="1146.1" cy="877.8" r="3.4"/>
<circle cx="1150.3" cy="879.3" r="3.4"/>
<circle cx="1147.1" cy="878.4" r="3.4"/>
<circle cx="1148.3" cy="871.6" r="3.4"/>
<circle cx="1149.9" cy="880.4" r="3.4"/>
<circle cx="1149.7" cy="880.6" r="3.4"/>
<circle cx="1146.2" cy="875.8" r="3.4"/>
<circle cx="1144.1" cy="878.6" r="3.4"/>
<circle cx="1143.8" cy="871.8" r="3.4"/>
<circle cx="1143.0" cy="885.0" r="3.4"/>
<circle cx="1143.0" cy="887.5" r="3.4"/>
<circle cx="1143.0" cy="890.0" r="3.4"/>
<circle cx="1145.5" cy="886.0" r="3.4"/>
<circle cx="1146.9" cy="885.3" r="3.4"/>
<circle cx="1143.4" cy="885.9" r="3.4"/>
<circle cx="1144.4" cy="887.2" r="3.4"/>
<circle cx="1143.7" cy="890.2" r="3.4"/>
<circle cx="1149.7" cy="885.9" r="3.4"/>
<circle cx="1146.0" cy="887.1" r="3.4"/>
<circle cx="1147.1" cy="885.7" r="3.4"/>
<circle cx="1152.1" cy="891.0" r="3.4"/>
<circle cx="1148.2" cy="887.9" r="3.4"/>
<circle cx="1143.0" cy="893.0" r="3.4"/>
<circle cx="1143.0" cy="895.5" r="3.4"/>
<circle cx="1143.0" cy="898.0" r="3.4"/>
<circle cx="1143.9" cy="893.6" r="3.4"/>
<circle cx="1145.5" cy="894.6" r="3.4"/>
<circle cx="1148.5" cy="894.0" r="3.4"/>
<circle cx="1143.5" cy="898.7" r="3.4"/>
<circle cx="1146.7" cy="893.9" r="3.4"/>
<circle cx="1146.8" cy="893.2" r="3.4"/>
<circle cx="1146.7" cy="898.9" r="3.4"/>
<circle cx="1148.8" cy="897.2" r="3.4"/>
<circle cx="1143.0" cy="901.0" r="3.4"/>
<circle cx="1143.0" cy="903.5" r="3.4"/>
<circle cx="1143.0" cy="906.0" r="3.4"/>
<circle cx="1143.0" cy="908.5" r="3.4"/>
<circle cx="1143.0" cy="911.0" r="3.4"/>
<circle cx="1144.8" cy="904.7" r="3.4"/>
<circle cx="1144.3" cy="908.7" r="3.4"/>
<circle cx="1146.2" cy="908.8" r="3.4"/>
<circle cx="1145.1" cy="903.2" r="3.4"/>
<circle cx="1147.6" cy="910.8" r="3.4"/>
<circle cx="1147.8" cy="909.1" r="3.4"/>
<circle cx="1147.7" cy="908.4" r="3.4"/>
<circle cx="1144.6" cy="906.2" r="3.4"/>
<circle cx="1145.2" cy="901.3" r="3.4"/>
<circle cx="1143.5" cy="903.8" r="3.4"/>
<circle cx="1144.7" cy="907.9" r="3.4"/>
<circle cx="1143.0" cy="913.0" r="3.4"/>
<circle cx="1143.0" cy="915.5" r="3.4"/>
<circle cx="1143.0" cy="918.0" r="3.4"/>
<circle cx="1143.0" cy="920.5" r="3.4"/>
<circle cx="1143.0" cy="923.0" r="3.4"/>
<circle cx="1150.3" cy="917.5" r="3.4"/>
<circle cx="1150.1" cy="922.9" r="3.4"/>
<circle cx="1150.3" cy="916.6" r="3.4"/>
<circle cx="1145.0" cy="915.3" r="3.4"/>
<circle cx="1144.8" cy="915.0" r="3.4"/>
<circle cx="1147.9" cy="922.0" r="3.4"/>
<circle cx="1149.5" cy="917.8" r="3.4"/>
<circle cx="1148.1" cy="921.0" r="3.4"/>
<circle cx="1144.0" cy="919.6" r="3.4"/>
<circle cx="1150.0" cy="920.8" r="3.4"/>
<circle cx="1148.8" cy="917.8" r="3.4"/>
<circle cx="1144.7" cy="920.9" r="3.4"/>
<circle cx="1143.0" cy="925.0" r="3.4"/>
<circle cx="1143.0" cy="927.5" r="3.4"/>
<circle cx="1143.0" cy="930.0" r="3.4"/>
<circle cx="1143.0" cy="932.5" r="3.4"/>
<circle cx="1143.0" cy="935.0" r="3.4"/>
<circle cx="1145.1" cy="933.0" r="3.4"/>
<circle cx="1148.5" cy="929.0" r="3.4"/>
<circle cx="1145.5" cy="934.5" r="3.4"/>
<circle cx="1147.2" cy="926.7" r="3.4"/>
<circle cx="1144.1" cy="926.5" r="3.4"/>
<circle cx="1148.1" cy="933.1" r="3.4"/>
<circle cx="1144.2" cy="933.3" r="3.4"/>
<circle cx="1148.5" cy="931.6" r="3.4"/>
<circle cx="1145.2" cy="930.5" r="3.4"/>
<circle cx="1144.1" cy="925.1" r="3.4"/>
<circle cx="1148.4" cy="931.5" r="3.4"/>
<circle cx="1143.0" cy="937.0" r="3.4"/>
<circle cx="1143.0" cy="939.5" r="3.4"/>
<circle cx="1143.0" cy="942.0" r="3.4"/>
<circle cx="1143.0" cy="944.5" r="3.4"/>
<circle cx="1143.0" cy="947.0" r="3.4"/>
<circle cx="1144.6" cy="948.2" r="3.4"/>
<circle cx="1144.4" cy="947.5" r="3.4"/>
<circle cx="1145.2" cy="939.5" r="3.4"/>
<circle cx="1144.0" cy="940.5" r="3.4"/>
<circle cx="1143.9" cy="944.0" r="3.4"/>
<circle cx="1144.0" cy="942.0" r="3.4"/>
<circle cx="1143.7" cy="947.9" r="3.4"/>
<circle cx="1144.2" cy="942.5" r="3.4"/>
<circle cx="1144.7" cy="947.9" r="3.4"/>
<circle cx="1143.0" cy="951.0" r="3.4"/>
<circle cx="1143.0" cy="953.5" r="3.4"/>
<circle cx="1143.0" cy="956.0" r="3.4"/>
<circle cx="1143.0" cy="958.5" r="3.4"/>
<circle cx="1143.0" cy="961.0" r="3.4"/>
<circle cx="1143.0" cy="963.5" r="3.4"/>
<circle cx="1143.7" cy="962.9" r="3.4"/>
<circle cx="1143.8" cy="957.9" r="3.4"/>
<circle cx="1143.8" cy="951.2" r="3.4"/>
<circle cx="1143.7" cy="953.4" r="3.4"/>
<circle cx="1143.4" cy="961.4" r="3.4"/>
<circle cx="1143.5" cy="957.2" r="3.4"/>
<circle cx="1143.9" cy="958.2" r="3.4"/>
<circle cx="1143.6" cy="957.7" r="3.4"/>
<circle cx="1143.0" cy="966.0" r="3.4"/>
<circle cx="1143.0" cy="968.5" r="3.4"/>
<circle cx="1143.0" cy="971.0" r="3.4"/>
<circle cx="1143.0" cy="973.5" r="3.4"/>
<circle cx="1143.0" cy="976.0" r="3.4"/>
<circle cx="1143.4" cy="974.6" r="3.4"/>
<circle cx="1143.4" cy="972.2" r="3.4"/>
<circle cx="1143.4" cy="969.0" r="3.4"/>
<circle cx="1143.4" cy="971.6" r="3.4"/>
<circle cx="1143.4" cy="974.4" r="3.4"/>
<circle cx="1143.4" cy="970.9" r="3.4"/>
<circle cx="1142.8" cy="979.0" r="3.4"/>
<circle cx="1142.8" cy="981.5" r="3.4"/>
<circle cx="1142.8" cy="984.0" r="3.4"/>
<circle cx="1142.9" cy="982.5" r="3.4"/>
<circle cx="1142.9" cy="983.8" r="3.4"/>
<circle cx="1142.9" cy="982.7" r="3.4"/>
<circle cx="1142.9" cy="985.6" r="3.4"/>
<circle cx="1140.9" cy="988.0" r="3.4"/>
<circle cx="1140.9" cy="990.5" r="3.4"/>
<circle cx="1140.9" cy="993.0" r="3.4"/>
<circle cx="1140.9" cy="995.5" r="3.4"/>
<circle cx="1140.9" cy="998.0" r="3.4"/>
<circle cx="1141.4" cy="997.6" r="3.4"/>
<circle cx="1142.0" cy="990.9" r="3.4"/>
<circle cx="1141.1" cy="998.4" r="3.4"/>
<circle cx="1141.7" cy="989.5" r="3.4"/>
<circle cx="1140.2" cy="992.9" r="3.4"/>
<circle cx="1140.1" cy="990.6" r="3.4"/>
<circle cx="1140.1" cy="995.4" r="3.4"/>
<circle cx="1141.6" cy="997.9" r="3.4"/>
<circle cx="1140.2" cy="995.9" r="3.4"/>
<circle cx="1140.4" cy="1001.0" r="3.4"/>
<circle cx="1140.4" cy="1003.5" r="3.4"/>
<circle cx="1140.4" cy="1006.0" r="3.4"/>
<circle cx="1140.4" cy="1008.5" r="3.4"/>
<circle cx="1140.4" cy="1011.0" r="3.4"/>
<circle cx="1140.4" cy="1013.5" r="3.4"/>
<circle cx="1140.4" cy="1016.0" r="3.4"/>
<circle cx="1140.4" cy="1018.5" r="3.4"/>
<circle cx="1140.3" cy="1003.6" r="3.4"/>
<circle cx="1141.2" cy="1018.4" r="3.4"/>
<circle cx="1138.7" cy="1018.1" r="3.4"/>
<circle cx="1139.4" cy="1009.8" r="3.4"/>
<circle cx="1141.6" cy="1016.0" r="3.4"/>
<circle cx="1138.5" cy="1008.8" r="3.4"/>
<circle cx="1139.8" cy="1007.1" r="3.4"/>
<circle cx="1138.6" cy="1006.7" r="3.4"/>
<circle cx="1140.6" cy="1001.4" r="3.4"/>
<circle cx="1139.9" cy="1008.9" r="3.4"/>
<circle cx="1138.0" cy="1007.0" r="3.4"/>
<circle cx="1140.2" cy="1010.2" r="3.4"/>
<circle cx="1138.1" cy="1018.7" r="3.4"/>
<circle cx="1140.8" cy="1018.5" r="3.4"/>
<circle cx="1138.3" cy="1005.8" r="3.4"/>
<circle cx="1138.0" cy="1015.0" r="3.4"/>
<circle cx="1139.9" cy="1021.0" r="3.4"/>
<circle cx="1139.9" cy="1023.5" r="3.4"/>
<circle cx="1139.9" cy="1026.0" r="3.4"/>
<circle cx="1139.9" cy="1028.5" r="3.4"/>
<circle cx="1139.9" cy="1031.0" r="3.4"/>
<circle cx="1139.9" cy="1033.5" r="3.4"/>
<circle cx="1139.9" cy="1036.0" r="3.4"/>
<circle cx="1139.9" cy="1038.5" r="3.4"/>
<circle cx="1139.9" cy="1041.0" r="3.4"/>
<circle cx="1139.9" cy="1043.5" r="3.4"/>
<circle cx="1139.9" cy="1046.0" r="3.4"/>
<circle cx="1139.9" cy="1048.5" r="3.4"/>
<circle cx="1139.9" cy="1051.0" r="3.4"/>
<circle cx="1139.9" cy="1053.5" r="3.4"/>
<circle cx="1138.4" cy="1025.3" r="3.4"/>
<circle cx="1139.0" cy="1051.1" r="3.4"/>
<circle cx="1140.4" cy="1029.5" r="3.4"/>
<circle cx="1138.0" cy="1051.3" r="3.4"/>
<circle cx="1139.5" cy="1044.1" r="3.4"/>
<circle cx="1137.7" cy="1022.9" r="3.4"/>
<circle cx="1139.9" cy="1035.0" r="3.4"/>
<circle cx="1137.7" cy="1052.0" r="3.4"/>
<circle cx="1139.7" cy="1047.5" r="3.4"/>
<circle cx="1137.7" cy="1049.3" r="3.4"/>
<circle cx="1137.6" cy="1049.5" r="3.4"/>
<circle cx="1139.1" cy="1032.2" r="3.4"/>
<circle cx="1139.4" cy="1051.6" r="3.4"/>
<circle cx="1138.4" cy="1025.3" r="3.4"/>
<circle cx="1139.3" cy="1028.9" r="3.4"/>
<circle cx="1137.8" cy="1026.3" r="3.4"/>
<circle cx="1137.6" cy="1027.7" r="3.4"/>
<circle cx="1138.6" cy="1031.1" r="3.4"/>
<circle cx="1140.2" cy="1030.6" r="3.4"/>
<circle cx="1139.3" cy="1026.9" r="3.4"/>
<circle cx="1138.7" cy="1021.6" r="3.4"/>
<circle cx="1138.3" cy="1021.5" r="3.4"/>
<circle cx="1140.1" cy="1039.2" r="3.4"/>
<circle cx="1138.1" cy="1036.7" r="3.4"/>
<circle cx="1140.9" cy="1024.5" r="3.4"/>
<circle cx="1140.4" cy="1035.3" r="3.4"/>
<circle cx="1139.2" cy="1048.5" r="3.4"/>
<circle cx="1138.9" cy="1037.7" r="3.4"/>
<circle cx="1138.9" cy="1056.0" r="3.4"/>
<circle cx="1138.9" cy="1058.5" r="3.4"/>
<circle cx="1138.9" cy="1061.0" r="3.4"/>
<circle cx="1138.9" cy="1063.5" r="3.4"/>
<circle cx="1138.9" cy="1066.0" r="3.4"/>
<circle cx="1138.9" cy="1068.5" r="3.4"/>
<circle cx="1138.9" cy="1071.0" r="3.4"/>
<circle cx="1138.9" cy="1073.5" r="3.4"/>
<circle cx="1138.0" cy="1074.7" r="3.4"/>
<circle cx="1135.7" cy="1071.8" r="3.4"/>
<circle cx="1138.1" cy="1068.1" r="3.4"/>
<circle cx="1136.1" cy="1062.6" r="3.4"/>
<circle cx="1133.8" cy="1058.5" r="3.4"/>
<circle cx="1133.9" cy="1070.1" r="3.4"/>
<circle cx="1135.1" cy="1059.1" r="3.4"/>
<circle cx="1134.0" cy="1072.0" r="3.4"/>
<circle cx="1139.2" cy="1068.7" r="3.4"/>
<circle cx="1135.3" cy="1060.6" r="3.4"/>
<circle cx="1135.4" cy="1064.7" r="3.4"/>
<circle cx="1134.5" cy="1064.5" r="3.4"/>
<circle cx="1135.2" cy="1074.3" r="3.4"/>
<circle cx="1139.9" cy="1066.4" r="3.4"/>
<circle cx="1135.0" cy="1074.3" r="3.4"/>
<circle cx="1135.5" cy="1062.8" r="3.4"/>
<circle cx="1133.4" cy="1063.3" r="3.4"/>
<circle cx="1136.6" cy="1065.6" r="3.4"/>
<circle cx="1134.7" cy="1065.6" r="3.4"/>
<circle cx="1133.4" cy="1061.0" r="3.4"/>
<circle cx="1134.0" cy="1063.6" r="3.4"/>
<circle cx="1137.9" cy="1077.0" r="3.4"/>
<circle cx="1137.9" cy="1079.5" r="3.4"/>
<circle cx="1137.9" cy="1082.0" r="3.4"/>
<circle cx="1137.9" cy="1084.5" r="3.4"/>
<circle cx="1137.9" cy="1087.0" r="3.4"/>
<circle cx="1137.9" cy="1089.5" r="3.4"/>
<circle cx="1137.9" cy="1092.0" r="3.4"/>
<circle cx="1137.9" cy="1094.5" r="3.4"/>
<circle cx="1137.9" cy="1097.0" r="3.4"/>
<circle cx="1137.9" cy="1099.5" r="3.4"/>
<circle cx="1137.9" cy="1102.0" r="3.4"/>
<circle cx="1132.2" cy="1077.6" r="3.4"/>
<circle cx="1134.1" cy="1082.8" r="3.4"/>
<circle cx="1136.1" cy="1090.2" r="3.4"/>
<circle cx="1137.3" cy="1093.4" r="3.4"/>
<circle cx="1137.1" cy="1099.0" r="3.4"/>
<circle cx="1134.7" cy="1085.2" r="3.4"/>
<circle cx="1139.0" cy="1080.7" r="3.4"/>
<circle cx="1137.1" cy="1093.1" r="3.4"/>
<circle cx="1132.2" cy="1097.9" r="3.4"/>
<circle cx="1138.3" cy="1092.7" r="3.4"/>
<circle cx="1137.2" cy="1097.3" r="3.4"/>
<circle cx="1132.9" cy="1090.1" r="3.4"/>
<circle cx="1135.5" cy="1097.9" r="3.4"/>
<circle cx="1137.7" cy="1097.7" r="3.4"/>
<circle cx="1136.1" cy="1099.3" r="3.4"/>
<circle cx="1136.8" cy="1094.3" r="3.4"/>
<circle cx="1133.6" cy="1077.8" r="3.4"/>
<circle cx="1132.9" cy="1086.0" r="3.4"/>
<circle cx="1132.7" cy="1097.9" r="3.4"/>
<circle cx="1135.9" cy="1092.7" r="3.4"/>
<circle cx="1136.4" cy="1094.0" r="3.4"/>
<circle cx="1135.4" cy="1077.1" r="3.4"/>
<circle cx="1137.6" cy="1095.7" r="3.4"/>
<circle cx="1135.5" cy="1090.4" r="3.4"/>
<circle cx="1136.6" cy="1078.7" r="3.4"/>
<circle cx="1137.2" cy="1083.3" r="3.4"/>
<circle cx="1132.4" cy="1083.6" r="3.4"/>
<circle cx="1137.2" cy="1082.1" r="3.4"/>
<circle cx="1137.2" cy="1101.4" r="3.4"/>
<circle cx="1135.4" cy="1104.0" r="3.4"/>
<circle cx="1135.4" cy="1106.5" r="3.4"/>
<circle cx="1135.4" cy="1109.0" r="3.4"/>
<circle cx="1133.5" cy="1105.9" r="3.4"/>
<circle cx="1133.4" cy="1107.4" r="3.4"/>
<circle cx="1135.2" cy="1107.1" r="3.4"/>
<circle cx="1134.4" cy="1104.4" r="3.4"/>
<circle cx="1131.3" cy="1105.3" r="3.4"/>
<circle cx="1135.0" cy="1105.5" r="3.4"/>
<circle cx="1133.9" cy="1104.1" r="3.4"/>
</svg>
</body></html>
